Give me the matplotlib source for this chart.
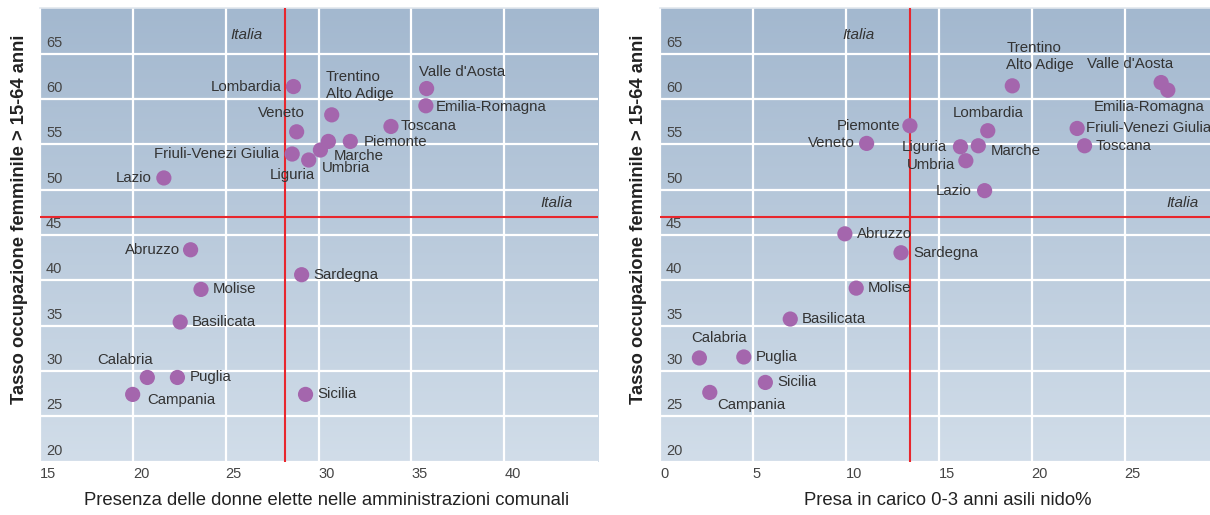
import matplotlib
matplotlib.use('Agg')
import matplotlib.pyplot as plt
import numpy as np

plt.rcParams['font.family'] = ['Liberation Sans Narrow', 'Liberation Sans', 'DejaVu Sans']

# data
regioni = ['Lombardia', "Valle d'Aosta", 'Emilia-Romagna', 'Trentino\nAlto Adige', 'Toscana',
           'Veneto', 'Piemonte', 'Marche', 'Umbria', 'Liguria', 'Friuli-Venezi Giulia',
           'Lazio', 'Abruzzo', 'Sardegna', 'Molise', 'Basilicata', 'Calabria', 'Puglia',
           'Campania', 'Sicilia']

# left chart: donne elette nei comuni
elette_x = [28.65, 35.82, 35.78, 30.71, 33.90, 28.82, 31.71, 30.53, 30.10, 29.47, 28.58,
            21.67, 23.11, 29.09, 23.67, 22.55, 20.78, 22.40, 19.99, 29.30]
elette_y = [61.37, 61.15, 59.25, 58.25, 56.97, 56.38, 55.32, 55.32, 54.37, 53.27, 53.93,
            51.29, 43.37, 40.62, 39.00, 35.40, 29.29, 29.29, 27.42, 27.42]

# right chart: asili nido
nido_x = [17.64, 26.97, 27.33, 18.96, 22.85, 11.12, 13.45, 17.13, 16.46, 16.17, 22.45,
          17.47, 9.95, 12.97, 10.56, 7.01, 2.12, 4.51, 2.68, 5.67]
nido_y = [56.50, 61.81, 60.97, 61.45, 54.84, 55.10, 57.05, 54.84, 53.19, 54.73, 56.75,
          49.89, 45.13, 43.04, 39.14, 35.73, 31.44, 31.55, 27.64, 28.74]

italia_elette = 28.2
italia_nido = 13.48
italia_occ = 46.95

y_ticks = [20, 25, 30, 35, 40, 45, 50, 55, 60, 65]
elette_ticks = [15, 20, 25, 30, 35, 40]
nido_ticks = [0, 5, 10, 15, 20, 25]

# label placement: (dx px, dy px screen-down, ha)
pos_left = {
    'Lombardia': (-12, 0, 'right'), "Valle d'Aosta": (-8, -17, 'left'),
    'Emilia-Romagna': (10, 1, 'left'), 'Trentino\nAlto Adige': (-6, -14, 'left'),
    'Toscana': (10, 0, 'left'), 'Veneto': (8, -19, 'right'), 'Piemonte': (13, 1, 'left'),
    'Marche': (5, 15, 'left'), 'Umbria': (1, 18, 'left'), 'Liguria': (6, 15, 'right'),
    'Friuli-Venezi Giulia': (-13, 0, 'right'), 'Lazio': (-12, 0, 'right'),
    'Abruzzo': (-11, 0, 'right'), 'Sardegna': (12, 0, 'left'), 'Molise': (12, 0, 'left'),
    'Basilicata': (12, 0, 'left'), 'Calabria': (6, -17, 'right'), 'Puglia': (12, 0, 'left'),
    'Campania': (15, 6, 'left'), 'Sicilia': (12, 0, 'left'),
}
pos_right = {
    'Lombardia': (0, -18, 'center'), "Valle d'Aosta": (12, -19, 'right'),
    'Emilia-Romagna': (37, 17, 'right'), 'Trentino\nAlto Adige': (-6, -14, 'left'),
    'Toscana': (11, 0, 'left'), 'Veneto': (-12, 0, 'right'), 'Piemonte': (-10, 0, 'right'),
    'Marche': (12, 5, 'left'), 'Umbria': (-11, 4, 'right'), 'Liguria': (-14, 0, 'right'),
    'Friuli-Venezi Giulia': (9, 0, 'left'), 'Lazio': (-13, 0, 'right'),
    'Abruzzo': (12, 0, 'left'), 'Sardegna': (12, 0, 'left'), 'Molise': (12, 0, 'left'),
    'Basilicata': (12, 0, 'left'), 'Calabria': (-8, -20, 'left'), 'Puglia': (12, 0, 'left'),
    'Campania': (7, 13, 'left'), 'Sicilia': (12, 0, 'left'),
}

dot_color = '#a466ad'
red = '#e8262d'
txt = '#333333'

fig = plt.figure(figsize=(12.1, 5.15), dpi=100)
ax1 = fig.add_axes([0.03306, 0.10350, 0.46116, 0.88039])
ax2 = fig.add_axes([0.54545, 0.10350, 0.45455, 0.88039])


def draw(ax, xs, ys, xlim, xticks, vline, pos, xlabel, xlab_pos, ylab_x,
         italia_top_dx, italia_right_x):
    ax.set_xlim(*xlim)
    ax.set_ylim(20, 70)
    # gradient background
    grad = np.linspace(0, 1, 256).reshape(-1, 1)
    top = np.array([163, 184, 207]) / 255
    bot = np.array([209, 221, 233]) / 255
    img = top + (bot - top) * grad[..., None]
    ax.imshow(img, extent=[xlim[0], xlim[1], 20, 70], aspect='auto', origin='upper', zorder=0)

    ax.set_xticks(xticks)
    ax.set_yticks(y_ticks)
    ax.grid(True, color='white', linewidth=1.6, zorder=1)
    ax.set_axisbelow(True)
    ax.tick_params(length=0, labelsize=10.5, colors='#444444', pad=4)
    for lab in ax.get_xticklabels():
        lab.set_ha('left')
    ax.set_yticklabels([])
    for v in y_ticks:
        ax.annotate(str(v), xy=(0, v), xycoords=('axes fraction', 'data'),
                    xytext=(6, 4), textcoords='offset pixels',
                    ha='left', va='bottom', fontsize=10.5, color='#444444', zorder=2)
    for s in ['left', 'right', 'bottom']:
        ax.spines[s].set_visible(False)
    ax.spines['top'].set_color('#e2e7ee')
    ax.spines['top'].set_linewidth(1.2)

    ax.axvline(vline, color=red, linewidth=1.5, zorder=3)
    ax.axhline(italia_occ, color=red, linewidth=1.5, zorder=3)

    ax.scatter(xs, ys, s=120, color=dot_color, edgecolors='none', zorder=4)
    for name, x, y in zip(regioni, xs, ys):
        dx, dy, ha = pos[name]
        va = 'center'
        if '\n' in name:
            va = 'bottom'
        ax.annotate(name, xy=(x, y), xytext=(dx, -dy), textcoords='offset pixels',
                    ha=ha, va=va, fontsize=10.8, color=txt, zorder=5, linespacing=1.25)

    ax.annotate('Italia', xy=(vline, 67.06), xytext=(italia_top_dx, 0),
                textcoords='offset pixels', ha='center', va='center',
                fontsize=11, style='italic', color=txt, zorder=5)
    ax.annotate('Italia', xy=(italia_right_x, italia_occ), xytext=(0, 14),
                textcoords='offset pixels', ha='right', va='center',
                fontsize=11, style='italic', color=txt, zorder=5)

    ax.set_ylabel('Tasso occupazione femminile > 15-64 anni', fontsize=13.2,
                  fontweight='bold', color='#222222')
    ax.yaxis.set_label_coords(ylab_x, 0.535)
    ax.set_xlabel(xlabel, fontsize=13.3, color='#222222')
    ax.xaxis.set_label_coords(xlab_pos, -0.066)


draw(ax1, elette_x, elette_y, (15, 45.05), elette_ticks, italia_elette, pos_left,
     'Presenza delle donne elette nelle amministrazioni comunali', 0.514, -0.022, -39, 43.7)
draw(ax2, nido_x, nido_y, (0, 29.6), nido_ticks, italia_nido, pos_right,
     'Presa in carico 0-3 anni asili nido%', 0.523, -0.024, -52, 29.0)

fig.savefig('out.png', dpi=100, facecolor='white')
